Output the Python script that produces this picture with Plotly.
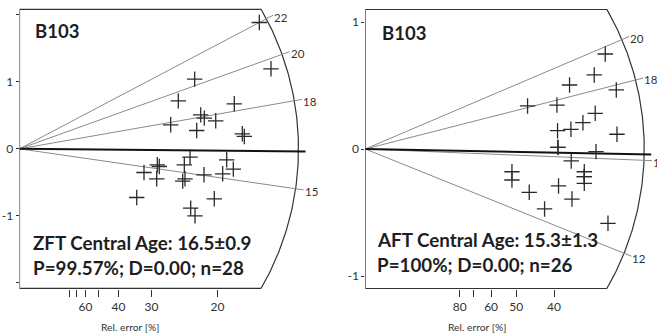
import numpy as np
import plotly.graph_objects as go

# ---------------- data ----------------
# ZFT (left panel): precision x = 1/sigma, standardised estimate y
zft_x = [6.056, 6.351, 4.424, 4.010, 5.424, 4.576, 4.667, 4.955, 3.818, 4.475,
         5.626, 5.677, 4.306, 5.232, 3.480, 3.530, 4.162, 5.399, 3.144, 4.659,
         5.131, 3.465, 4.179, 4.121, 2.960, 4.919, 4.323, 4.432]
zft_y = [1.885, 1.194, 1.040, 0.716, 0.672, 0.507, 0.458, 0.418, 0.358, 0.273,
         0.224, 0.184, -0.124, -0.164, -0.239, -0.264, -0.239, -0.303, -0.354, -0.388,
         -0.373, -0.448, -0.448, -0.482, -0.727, -0.746, -0.885, -1.000]

# AFT (right panel)
aft_x = [3.179, 3.033, 2.706, 3.325, 2.150, 2.539, 3.046, 2.883, 2.724, 2.547,
         3.334, 2.552, 3.056, 2.728, 1.943, 1.943, 2.901, 2.901, 2.901, 2.560,
         2.172, 2.738, 2.375, 3.215, 2.552, 2.901]
aft_y = [0.748, 0.583, 0.504, 0.465, 0.339, 0.346, 0.281, 0.207, 0.155, 0.144,
         0.116, 0.013, -0.021, -0.094, -0.179, -0.244, -0.179, -0.218, -0.270, -0.291,
         -0.341, -0.394, -0.472, -0.585, 0.013, -0.218]

zft_age_lines = [15, 18, 20, 22]
aft_age_lines = [12, 15, 18, 20]
zft_ref_age, zft_slope_scale, zft_central_line_age = 16.29, 1.036, 16.2
aft_ref_age, aft_slope_scale, aft_central_line_age = 15.38, 0.965, 15.2

zft_rel_err_ticks = [80, 70, 60, 50, 40, 30, 20]
zft_rel_err_labels = ["", "", "60", "", "40", "30", "20"]
aft_rel_err_ticks = [80, 70, 60, 50, 40]
aft_rel_err_labels = ["80", "", "60", "50", "40"]

zft_y_ticks = [-2, -1, 0, 1, 2]
zft_y_labels = ["", "-1", "0", "1", ""]
aft_y_ticks = [-1, 0, 1]
aft_y_labels = ["-1", "0", "1"]

zft_title = "B103"
aft_title = "B103"
zft_text1 = "ZFT Central Age: 16.5±0.9"
zft_text2 = "P=99.57%; D=0.00; n=28"
aft_text1 = "AFT Central Age: 15.3±1.3"
aft_text2 = "P=100%; D=0.00; n=26"

# ---------------- layout geometry (pixels) ----------------
W, H = 657, 336
FONT = "Lato"
TXT = "#1e1e1e"
ARC_R = 279.0          # arc radius in px
LINE_R = 287.0         # radial lines length in px
HALF_ANGLE = np.deg2rad(30)
Y_TOP_PX, Y_BOT_PX = 2, 300
X_AXIS_PX = 289

panels = [
    dict(ox=19.5, oy=148.8, sx=39.6, sy=67.0, xend=322, xs="x", ys="y",
         px=zft_x, py=zft_y, ages=zft_age_lines, t0=zft_ref_age, k=zft_slope_scale,
         tc=zft_central_line_age, ticks=zft_rel_err_ticks, tlabels=zft_rel_err_labels,
         yt=zft_y_ticks, ytl=zft_y_labels, rel_x=130),
    dict(ox=365.25, oy=149.0, sx=75.5, sy=127.0, xend=656, xs="x2", ys="y2",
         px=aft_x, py=aft_y, ages=aft_age_lines, t0=aft_ref_age, k=aft_slope_scale,
         tc=aft_central_line_age, ticks=aft_rel_err_ticks, tlabels=aft_rel_err_labels,
         yt=aft_y_ticks, ytl=aft_y_labels, rel_x=477),
]

fig = go.Figure()
annotations = []
layout_axes = {}

for i, p in enumerate(panels):
    sx, sy = p["sx"], p["sy"]
    xa, ya = p["xs"], p["ys"]
    # frame + arc
    rx, ry = ARC_R / sx, ARC_R / sy
    xe, ye = rx * np.cos(HALF_ANGLE), ry * np.sin(HALF_ANGLE)
    th = np.linspace(HALF_ANGLE, -HALF_ANGLE, 120)
    fx = [xe, 0, 0, xe] + list(rx * np.cos(th))
    fy = [-ye, -ye, ye, ye] + list(ry * np.sin(th))
    fig.add_trace(go.Scatter(x=fx, y=fy, mode="lines", xaxis=xa, yaxis=ya,
                             line=dict(color="#333333", width=1.2), hoverinfo="skip"))
    # radial age lines
    for t in p["ages"]:
        s = p["k"] * np.log(t / p["t0"])
        lx = LINE_R / np.sqrt(sx ** 2 + (sy * s) ** 2)
        ly = s * lx
        fig.add_trace(go.Scatter(x=[0, lx], y=[0, ly], mode="lines", xaxis=xa, yaxis=ya,
                                 line=dict(color="#8a8a8a", width=1), hoverinfo="skip"))
        annotations.append(dict(x=lx, y=ly, xref=xa, yref=ya, text=str(t), showarrow=False,
                                xanchor="left", yanchor="middle", yshift=-2, xshift=-1,
                                font=dict(family=FONT, size=11.5, color="#333333")))
    # central line (thick)
    s = p["k"] * np.log(p["tc"] / p["t0"])
    lx = (LINE_R - 1) / np.sqrt(sx ** 2 + (sy * s) ** 2)
    fig.add_trace(go.Scatter(x=[0, lx], y=[0, s * lx], mode="lines", xaxis=xa, yaxis=ya,
                             line=dict(color="#111111", width=2), hoverinfo="skip"))
    # points
    fig.add_trace(go.Scatter(x=p["px"], y=p["py"], mode="markers", xaxis=xa, yaxis=ya,
                             marker=dict(symbol="cross-thin", size=11,
                                         line=dict(color="#2a2a2a", width=1.3)),
                             hoverinfo="skip"))
    # axes
    xdom = [p["ox"] / W, p["xend"] / W]
    ydom = [(H - Y_BOT_PX) / H, (H - Y_TOP_PX) / H]
    xr = [0, (p["xend"] - p["ox"]) / sx]
    yr = [(p["oy"] - Y_BOT_PX) / sy, (p["oy"] - Y_TOP_PX) / sy]
    sfx = "" if i == 0 else "2"
    layout_axes["xaxis" + sfx] = dict(
        domain=xdom, range=xr, anchor="free", position=(H - X_AXIS_PX) / H,
        showgrid=False, zeroline=False, showline=False, ticks="outside", ticklen=7,
        tickwidth=1, tickcolor="#333333",
        tickvals=[100.0 / v for v in p["ticks"]], ticktext=p["tlabels"],
        tickfont=dict(family=FONT, size=12, color="#333333"), fixedrange=True)
    layout_axes["yaxis" + sfx] = dict(
        domain=ydom, range=yr, anchor=xa, showgrid=False, zeroline=False, showline=False,
        ticks="outside", ticklen=3, tickwidth=1, tickcolor="#333333",
        tickvals=p["yt"], ticktext=p["ytl"],
        tickfont=dict(family=FONT, size=12, color="#333333"), fixedrange=True)
    annotations.append(dict(x=p["rel_x"] / W, y=1 - 327 / H, xref="paper", yref="paper",
                            text="Rel. error [%]", showarrow=False, xanchor="center",
                            yanchor="middle", font=dict(family=FONT, size=10.3, color="#333333")))

def txt(px, py, text, size, bold=True):
    annotations.append(dict(x=px / W, y=1 - py / H, xref="paper", yref="paper",
                            text=("<b>%s</b>" % text) if bold else text, showarrow=False,
                            xanchor="left", yanchor="middle",
                            font=dict(family=FONT, size=size, color=TXT)))

txt(33, 31, zft_title, 18.5)
txt(31, 242, zft_text1, 18.8)
txt(31, 267, zft_text2, 18.8)
txt(380, 33, aft_title, 18.5)
txt(375, 239, aft_text1, 18.8)
txt(375, 264, aft_text2, 18.8)

fig.update_layout(width=W, height=H, margin=dict(l=0, r=0, t=0, b=0),
                  paper_bgcolor="white", plot_bgcolor="rgba(0,0,0,0)",
                  showlegend=False, annotations=annotations, **layout_axes)

fig.write_html("out.html")
